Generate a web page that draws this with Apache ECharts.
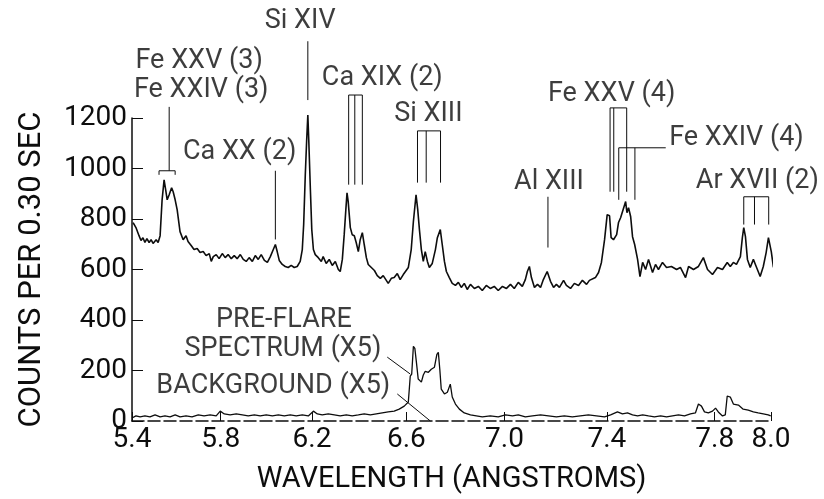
<!DOCTYPE html>
<html>
<head>
<meta charset="utf-8">
<script src="https://cdn.jsdelivr.net/npm/echarts@6/dist/echarts.min.js"></script>
<style>html,body{margin:0;padding:0;background:#fff}#chart{width:824px;height:499px}</style>
</head>
<body>
<div id="chart"></div>
<script>
// Bragg crystal spectrometer: scan is linear in angle, wavelength = 2d sin(theta)
const crystal2d = 10.64;

const tickWavelengths = [5.4, 5.8, 6.2, 6.6, 7.0, 7.4, 7.8, 8.0];
const tickLabels = ['5.4', '5.8', '6.2', '6.6', '7.0', '7.4', '7.8', '8.0'];
const countTicks = [0, 200, 400, 600, 800, 1000, 1200];

// Flare spectrum
const flareWavelength = [5.405,5.418,5.432,5.441,5.450,5.459,5.468,5.478,5.487,5.496,5.510,5.519,5.528,5.537,5.546,5.553,5.560,5.569,5.580,5.587,5.596,5.605,5.618,5.632,5.645,5.654,5.668,5.681,5.695,5.708,5.722,5.735,5.749,5.758,5.767,5.780,5.793,5.807,5.820,5.833,5.847,5.860,5.873,5.887,5.900,5.913,5.926,5.940,5.953,5.966,5.979,5.993,6.006,6.019,6.032,6.041,6.049,6.058,6.071,6.084,6.097,6.110,6.123,6.136,6.149,6.158,6.164,6.171,6.177,6.182,6.186,6.193,6.199,6.206,6.214,6.227,6.240,6.248,6.261,6.274,6.287,6.300,6.313,6.321,6.330,6.338,6.345,6.350,6.355,6.364,6.372,6.381,6.389,6.398,6.406,6.415,6.423,6.432,6.440,6.453,6.466,6.478,6.491,6.503,6.516,6.524,6.537,6.549,6.562,6.574,6.587,6.608,6.620,6.629,6.640,6.647,6.654,6.662,6.670,6.678,6.687,6.695,6.707,6.720,6.728,6.740,6.748,6.757,6.765,6.777,6.789,6.802,6.814,6.826,6.838,6.850,6.863,6.879,6.895,6.911,6.927,6.943,6.959,6.975,6.992,7.008,7.024,7.039,7.055,7.071,7.083,7.091,7.099,7.107,7.119,7.131,7.143,7.154,7.169,7.182,7.194,7.205,7.217,7.233,7.244,7.260,7.275,7.291,7.306,7.322,7.333,7.356,7.368,7.379,7.391,7.401,7.410,7.416,7.425,7.437,7.444,7.452,7.459,7.471,7.476,7.482,7.490,7.497,7.505,7.516,7.525,7.535,7.546,7.557,7.572,7.583,7.594,7.609,7.624,7.642,7.661,7.675,7.694,7.705,7.723,7.741,7.759,7.774,7.792,7.810,7.828,7.845,7.856,7.867,7.878,7.892,7.899,7.904,7.910,7.917,7.927,7.938,7.948,7.962,7.973,7.983,7.991,8.001,8.008,8.015];
const flareCounts = [786,766,734,715,726,707,722,707,718,703,718,707,734,876,955,916,876,896,924,908,876,837,750,718,734,711,695,679,683,667,671,655,663,632,651,659,643,663,647,659,643,655,643,659,640,632,647,632,655,640,659,636,628,651,679,699,671,636,620,612,608,616,608,612,632,679,778,975,1113,1212,1113,916,758,679,659,647,632,651,624,640,616,632,600,592,640,738,837,904,869,766,738,734,707,671,718,746,699,647,620,608,596,576,565,576,557,545,565,568,584,560,580,608,679,790,896,837,758,679,632,671,632,608,624,679,726,758,699,632,592,568,545,537,549,529,545,521,541,525,533,517,537,525,533,517,533,525,541,525,549,533,560,592,612,568,529,541,529,560,592,553,529,541,529,557,537,525,545,537,557,541,557,568,588,628,718,817,813,726,718,738,786,805,829,869,825,845,809,730,699,640,572,628,600,640,588,620,600,628,608,612,600,608,568,612,600,612,647,600,580,608,600,628,612,628,620,651,726,766,730,640,608,640,612,572,612,667,726,671,612,592];

// Pre-flare spectrum (x5)
const preflareWavelength = [5.400,5.418,5.437,5.459,5.482,5.505,5.528,5.550,5.573,5.596,5.618,5.645,5.672,5.700,5.726,5.753,5.780,5.798,5.816,5.842,5.869,5.896,5.922,5.949,5.975,6.001,6.028,6.054,6.080,6.106,6.132,6.158,6.184,6.206,6.223,6.244,6.270,6.296,6.321,6.347,6.372,6.398,6.423,6.449,6.474,6.499,6.524,6.549,6.570,6.591,6.608,6.616,6.622,6.629,6.635,6.641,6.649,6.662,6.670,6.678,6.691,6.703,6.716,6.726,6.732,6.738,6.744,6.757,6.769,6.781,6.789,6.802,6.818,6.838,6.863,6.887,6.911,6.943,6.975,7.004,7.032,7.055,7.083,7.111,7.143,7.174,7.205,7.236,7.267,7.298,7.329,7.360,7.391,7.414,7.440,7.459,7.478,7.497,7.516,7.535,7.557,7.579,7.602,7.624,7.646,7.668,7.690,7.712,7.730,7.741,7.752,7.763,7.777,7.792,7.803,7.813,7.828,7.838,7.845,7.856,7.867,7.885,7.902,7.920,7.938,7.955,7.973,7.990,7.999];
const preflareCounts = [12,20,16,20,16,24,16,20,16,24,16,20,16,24,20,24,20,39,28,24,28,24,20,24,20,24,20,24,20,24,20,24,20,39,28,24,28,24,20,24,20,24,28,24,28,32,36,39,47,59,75,178,186,296,288,237,166,154,182,197,193,205,213,264,272,205,126,107,114,146,95,67,47,32,24,20,16,20,16,24,20,24,16,20,24,20,16,20,16,20,24,20,16,24,36,28,32,24,20,24,20,16,20,16,20,24,20,28,32,67,59,36,32,39,51,36,20,24,99,95,67,63,47,43,36,32,28,24,20];

// Line identifications
const lineLabels = ['Si XIV', 'Fe XXV (3)', 'Fe XXIV (3)', 'Ca XX (2)', 'Ca XIX (2)', 'Si XIII', 'Al XIII', 'Fe XXV (4)', 'Fe XXIV (4)', 'Ar XVII (2)', 'PRE-FLARE', 'SPECTRUM (X5)', 'BACKGROUND (X5)'];
const lineLabelWavelength = [6.149, 5.704, 5.713, 5.884, 6.499, 6.691, 7.176, 7.418, 7.878, 7.952, 6.078, 6.074, 6.032];
const lineLabelCounts = [1583, 1425, 1311, 1066, 1358, 1216, 944, 1295, 1121, 948, 399, 284, 138];

// Leader lines / brackets in [wavelength, counts]
const leaderPaths = [
  [[5.569, 1244], [5.569, 991]],
  [[5.523, 975], [5.523, 991], [5.596, 991], [5.596, 975]],
  [[6.041, 991], [6.041, 719]],
  [[6.182, 1504], [6.182, 1271]],
  [[6.357, 936], [6.357, 1291], [6.415, 1291], [6.415, 936]],
  [[6.383, 1291], [6.383, 936]],
  [[6.646, 944], [6.646, 1149], [6.741, 1149], [6.741, 944]],
  [[6.682, 1149], [6.682, 944]],
  [[7.172, 888], [7.172, 687]],
  [[7.412, 908], [7.412, 1240], [7.475, 1240], [7.475, 908]],
  [[7.426, 1240], [7.426, 908]],
  [[7.445, 876], [7.445, 1082], [7.621, 1082]],
  [[7.506, 1082], [7.506, 876]],
  [[7.904, 778], [7.904, 888], [7.992, 888], [7.992, 778]],
  [[7.942, 888], [7.942, 778]],
  [[6.520, 253], [6.616, 186]],
  [[6.562, 107], [6.699, 0]]
];

function theta(w) { return Math.asin(w / crystal2d) * 180 / Math.PI; }

const tickTheta = tickWavelengths.map(theta);
const FONT = 'Roboto';
const INK = '#0d0d0d';

const chart = echarts.init(document.getElementById('chart'), null, { renderer: 'canvas' });
chart.setOption({
  animation: false,
  backgroundColor: '#ffffff',
  grid: { left: 132, right: 53, top: 118, bottom: 77, containLabel: false },
  xAxis: {
    type: 'value',
    min: theta(5.4),
    max: theta(8.0),
    name: 'WAVELENGTH (ANGSTROMS)',
    nameLocation: 'middle',
    nameGap: 44,
    nameTextStyle: { fontFamily: FONT, fontSize: 29, color: INK },
    axisLine: { show: true, lineStyle: { color: INK, width: 1.5, type: [12, 4] } },
    axisTick: { show: true, inside: true, length: 9, customValues: tickTheta, lineStyle: { color: INK, width: 1 } },
    axisLabel: {
      customValues: tickTheta,
      fontFamily: FONT, fontSize: 28, color: INK, margin: 5,
      formatter: function (v) {
        for (let i = 0; i < tickTheta.length; i++) if (Math.abs(tickTheta[i] - v) < 1e-6) return tickLabels[i];
        return '';
      }
    },
    splitLine: { show: false }
  },
  yAxis: {
    type: 'value',
    min: 0, max: 1200, interval: 200,
    name: 'COUNTS PER 0.30 SEC',
    nameLocation: 'middle',
    nameRotate: 90,
    nameGap: 84,
    nameTextStyle: { fontFamily: FONT, fontSize: 31, color: INK },
    axisLine: { show: true, lineStyle: { color: INK, width: 1.5 } },
    axisTick: { show: true, inside: true, length: 11, lineStyle: { color: INK, width: 1 } },
    axisLabel: { fontFamily: FONT, fontSize: 28, color: INK, margin: 5, formatter: v => String(v) },
    splitLine: { show: false }
  },
  series: [
    {
      type: 'line', name: 'Flare', clip: false, symbol: 'none',
      lineStyle: { color: INK, width: 1.6 },
      data: flareWavelength.map((w, i) => [theta(w), flareCounts[i]])
    },
    {
      type: 'line', name: 'Pre-flare (x5)', clip: false, symbol: 'none',
      lineStyle: { color: INK, width: 1.3 },
      data: preflareWavelength.map((w, i) => [theta(w), preflareCounts[i]])
    },
    {
      type: 'lines', coordinateSystem: 'cartesian2d', polyline: true, clip: false, silent: true,
      lineStyle: { color: INK, width: 1, opacity: 1 },
      data: leaderPaths.map(p => ({ coords: p.map(pt => [theta(pt[0]), pt[1]]) }))
    },
    {
      type: 'scatter', clip: false, silent: true, symbolSize: 2,
      itemStyle: { color: 'rgba(255,255,255,0)' },
      labelLayout: { hideOverlap: false },
      label: {
        show: true, position: 'inside', fontFamily: FONT, fontSize: 27, color: INK,
        formatter: p => lineLabels[p.dataIndex]
      },
      data: lineLabels.map((t, i) => [theta(lineLabelWavelength[i]), lineLabelCounts[i]])
    }
  ]
});
</script>
</body>
</html>
